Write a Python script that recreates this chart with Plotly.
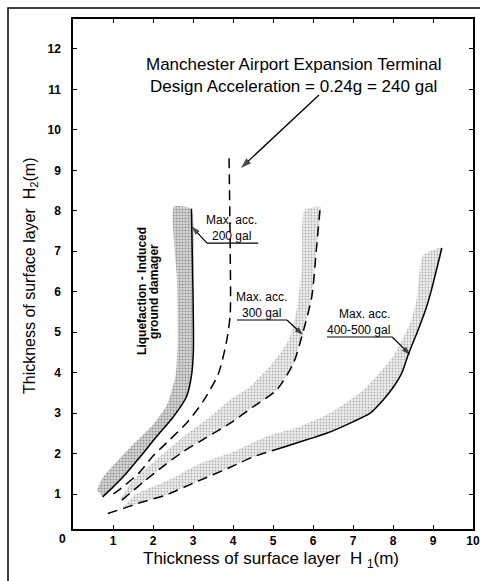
import numpy as np
import plotly.graph_objects as go

# ---- data (H1 = x, H2 = y) ----
# 200 gal boundary (solid)
a_x = [0.74, 1.0, 1.26, 1.68, 2.09, 2.51, 2.84, 2.97, 3.01, 3.0, 2.96]
a_y = [0.93, 1.17, 1.43, 1.92, 2.42, 2.91, 3.41, 3.98, 4.56, 6.0, 8.05]
# design 240 gal (dashed)
b_x = [1.01, 1.2, 1.63, 2.01, 2.43, 2.88, 3.26, 3.63, 3.84, 3.93, 3.93, 3.90]
b_y = [1.0, 1.14, 1.5, 1.95, 2.35, 2.8, 3.3, 3.96, 4.78, 5.44, 7.0, 9.43]
# 300 gal (dashed)
c_x = [1.22, 1.5, 1.8, 2.3, 2.76, 3.34, 3.93, 4.51, 5.09, 5.51, 5.72, 5.97, 6.09, 6.18]
c_y = [0.85, 1.08, 1.33, 1.72, 2.05, 2.4, 2.75, 3.16, 3.57, 4.23, 4.89, 5.88, 7.11, 8.1]
# 400-500 gal: dashed lower part, solid upper part
d_dash_x = [0.87, 1.25, 1.63, 2.34, 3.01, 3.93, 4.51, 5.18]
d_dash_y = [0.52, 0.64, 0.77, 0.98, 1.27, 1.66, 1.92, 2.13]
d_solid_x = [5.18, 5.84, 6.34, 7.01, 7.43, 7.76, 8.05, 8.22, 8.38, 8.63, 8.84, 8.96, 9.22]
d_solid_y = [2.13, 2.34, 2.5, 2.79, 3.0, 3.33, 3.7, 3.99, 4.44, 5.06, 5.63, 6.04, 7.08]

# outer edges of the shaded (stippled) bands
band_a_x = [0.6, 0.76, 1.43, 1.99, 2.35, 2.57, 2.62, 2.6, 2.52]
band_a_y = [1.1, 1.43, 2.15, 2.7, 3.2, 3.95, 4.85, 6.3, 8.1]
band_c_x = [1.2, 1.51, 2.26, 2.76, 3.43, 3.93, 4.43, 4.84, 5.2, 5.43, 5.6, 5.72, 5.78]
band_c_y = [0.9, 1.35, 2.0, 2.42, 2.91, 3.33, 3.66, 4.07, 4.5, 4.89, 5.6, 6.6, 8.0]
band_d_x = [1.3, 1.55, 2.47, 3.18, 4.0, 4.84, 5.68, 6.43, 7.26, 8.0, 8.43, 8.59, 8.75]
band_d_y = [0.72, 0.98, 1.38, 1.76, 2.04, 2.42, 2.67, 3.0, 3.57, 4.4, 5.22, 5.8, 6.9]

x_ticks = list(range(1, 11))
y_ticks = list(range(1, 13))

FONT = "Liberation Sans, Arial, sans-serif"

fig = go.Figure()

def band(inner_x, inner_y, outer_x, outer_y, color, fg, solidity):
    px = np.concatenate([inner_x, outer_x[::-1]])
    py = np.concatenate([inner_y, outer_y[::-1]])
    fig.add_trace(go.Scatter(
        x=px, y=py, mode="lines", fill="toself", fillcolor=color,
        line=dict(width=0, shape="spline", smoothing=0.5),
        fillpattern=dict(shape=".", size=3, solidity=solidity, fgcolor=fg,
                         bgcolor=color, fillmode="replace"),
        hoverinfo="skip", showlegend=False))

band(np.array(a_x), np.array(a_y), np.array(band_a_x), np.array(band_a_y),
     "rgba(190,190,190,0.6)", "#939393", 0.4)
band(np.array(c_x), np.array(c_y), np.array(band_c_x), np.array(band_c_y),
     "rgba(215,215,215,0.45)", "#b0b0b0", 0.3)
d_in_x = np.array(d_dash_x[1:] + d_solid_x[1:])
d_in_y = np.array(d_dash_y[1:] + d_solid_y[1:])
band(d_in_x, d_in_y, np.array(band_d_x), np.array(band_d_y),
     "rgba(215,215,215,0.45)", "#b0b0b0", 0.3)

def curve(x, y, dash=None, width=1.5):
    fig.add_trace(go.Scatter(
        x=x, y=y, mode="lines",
        line=dict(color="black", width=width, dash=dash, shape="spline", smoothing=0.7),
        hoverinfo="skip", showlegend=False))

curve(a_x, a_y)
curve(b_x, b_y, dash="10px,6px")
curve(c_x, c_y, dash="10px,6px")
curve(d_dash_x, d_dash_y, dash="10px,6px")
curve(d_solid_x, d_solid_y)

def arrow(x, y, ax, ay, size=9, width=1.2):
    # leader line from (ax, ay) to the tip (x, y) with a filled arrow head at the tip
    fig.add_trace(go.Scatter(
        x=[ax, x], y=[ay, y], mode="lines+markers",
        line=dict(color="black", width=width),
        marker=dict(symbol="arrow", size=[0, size], angleref="previous",
                    color="black", line=dict(width=0)),
        hoverinfo="skip", showlegend=False, cliponaxis=False))

arrow(4.2, 9.06, 6.15, 10.86, size=11, width=1.3)
arrow(2.97, 7.61, 3.35, 7.2)
arrow(5.75, 4.93, 5.35, 5.30)
arrow(8.43, 4.44, 7.98, 4.88)

ann = []
def text(x, y, s, size=12, angle=0, weight="normal", ref="data",
         xanchor="center", yanchor="middle", align="center"):
    r = ("x", "y") if ref == "data" else ("paper", "paper")
    ann.append(dict(x=x, y=y, xref=r[0], yref=r[1], text=s, showarrow=False,
                    textangle=angle, xanchor=xanchor, yanchor=yanchor, align=align,
                    font=dict(family=FONT, size=size, color="black", weight=weight)))

text(5.5, 11.35, "Manchester Airport Expansion Terminal<br>Design Acceleration = 0.24g = 240 gal",
     size=17)
text(3.95, 7.16, "Max. acc.<br>200 gal", size=12, yanchor="bottom")
text(4.7, 5.26, "Max. acc.<br>300 gal", size=12, yanchor="bottom")
text(7.975, 4.84, "Max. acc.<br>400-500 gal", size=12, yanchor="bottom",
     xanchor="right", align="right")

text(1.74, 6.01, "Liquefaction - Induced", size=12, angle=-90, weight="bold")
text(2.03, 6.0, "ground damager", size=12, angle=-90, weight="bold")

# origin label and axis titles (outside the plotting area -> paper coordinates)
text(-0.0275, -0.0196, "0", size=12, weight="bold", ref="paper")
text(0.495, -0.061, "Thickness of surface layer  H <sub>1</sub>(m)", size=17, ref="paper")
text(-0.1075, 0.496, "Thickness of surface layer  H<sub>2</sub>(m)", size=16, angle=-90,
     ref="paper")

shapes = [
    # underlines of the labels
    dict(type="line", xref="x", yref="y", x0=3.35, x1=4.63, y0=7.2, y1=7.2,
         line=dict(color="#000000", width=1.2)),
    dict(type="line", xref="x", yref="y", x0=4.1, x1=5.35, y0=5.30, y1=5.30,
         line=dict(color="#000000", width=1.2)),
    dict(type="line", xref="x", yref="y", x0=6.35, x1=7.98, y0=4.88, y1=4.88,
         line=dict(color="#000000", width=1.2)),
    # outer frame of the figure
    dict(type="rect", xref="paper", yref="paper", x0=-0.1625, x1=1.05, y0=-0.15, y1=1.0216,
         line=dict(color="#000000", width=1.5)),
]

axis_common = dict(showline=True, linecolor="black", linewidth=1.5, mirror="ticks",
                   ticks="inside", ticklen=4, tickwidth=1.2, tickcolor="black",
                   showgrid=False, zeroline=False, automargin=False,
                   tickfont=dict(family=FONT, size=12, color="black", weight="bold"))

fig.update_layout(
    width=480, height=581,
    margin=dict(l=73, r=7, t=19, b=52),
    paper_bgcolor="white", plot_bgcolor="white",
    xaxis=dict(range=[0, 10], tickvals=x_ticks, ticktext=[str(v) for v in x_ticks], **axis_common),
    yaxis=dict(range=[0.135, 12.74], tickvals=y_ticks, ticktext=[str(v) for v in y_ticks],
               ticklabelstandoff=8, **axis_common),
    annotations=ann, shapes=shapes, showlegend=False,
)

fig.write_html("out.html", config={"displayModeBar": False},
               post_script="document.body.style.margin='0';document.body.style.overflow='hidden';")
